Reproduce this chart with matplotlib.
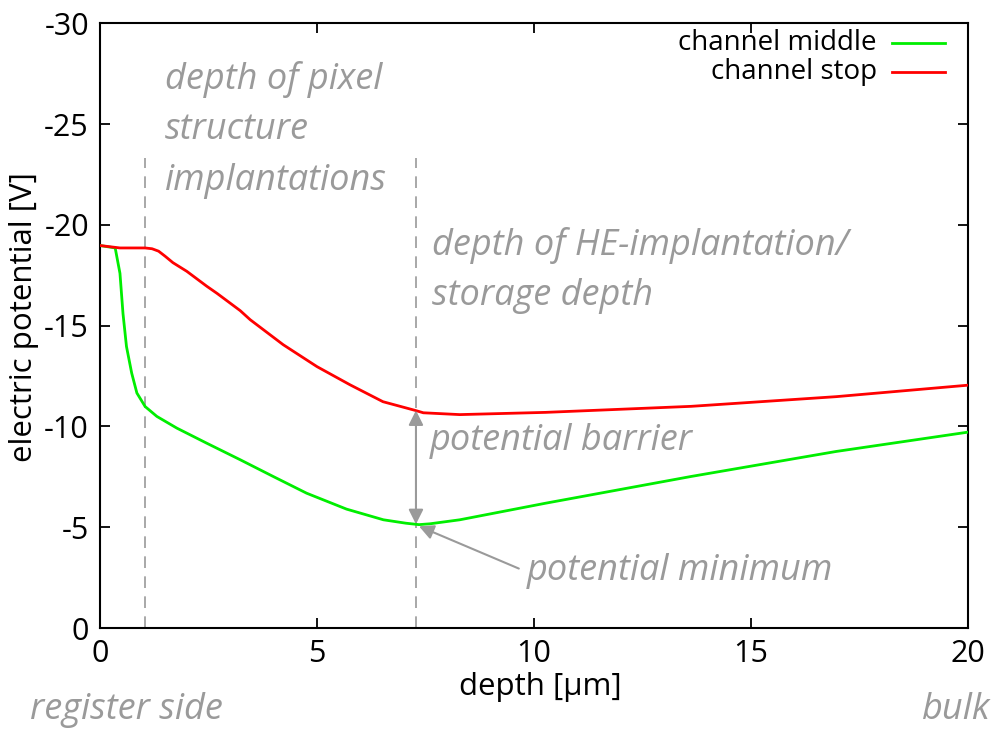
import matplotlib
matplotlib.use("Agg")
import matplotlib.pyplot as plt
from matplotlib.lines import Line2D

# potential profiles along the depth of the sensor
depth_middle = [0, 0.35, 0.46, 0.53, 0.61, 0.73, 0.85, 1.04, 1.31, 1.77, 2.46, 3.23,
                3.99, 4.76, 5.68, 6.53, 7.05, 7.35, 7.6, 8.29, 10.26, 13.62, 16.96, 20]
pot_middle = [-18.98, -18.86, -17.6, -15.6, -13.97, -12.65, -11.66, -10.99, -10.5, -9.92,
              -9.17, -8.35, -7.52, -6.69, -5.9, -5.37, -5.2, -5.13, -5.17, -5.37, -6.19,
              -7.52, -8.76, -9.72]

depth_stop = [0, 0.46, 1.04, 1.2, 1.35, 1.5, 1.68, 2.0, 2.46, 2.7, 3.23, 3.46, 4.22,
              5.0, 5.76, 6.52, 7.26, 7.45, 8.29, 10.26, 13.62, 16.96, 20]
pot_stop = [-18.98, -18.86, -18.86, -18.82, -18.7, -18.45, -18.13, -17.7, -16.96, -16.6,
            -15.75, -15.3, -14.06, -12.97, -12.07, -11.23, -10.8, -10.68, -10.59, -10.7,
            -11.0, -11.48, -12.05]

series_labels = ["channel middle", "channel stop"]
series_colors = ["#00ee00", "#ff0000"]

pixel_depth = 1.04      # depth of pixel structure implantations
storage_depth = 7.28    # depth of HE implantation / storage depth
barrier_top = -10.8
barrier_bottom = -5.15

x_ticks = [0, 5, 10, 15, 20]
y_ticks = [0, -5, -10, -15, -20, -25, -30]

plt.rcParams['font.family'] = ['Open Sans', 'DejaVu Sans']
gray = "#9a9a9a"

fig = plt.figure(figsize=(9.95, 7.31), dpi=100)
ax = fig.add_axes([0.1005, 0.1409, 0.8724, 0.827])

ax.plot(depth_middle, pot_middle, color=series_colors[0], lw=2.0, zorder=3)
ax.plot(depth_stop, pot_stop, color=series_colors[1], lw=2.0, zorder=3)

ax.set_xlim(0, 20)
ax.set_ylim(0, -30)
ax.set_xticks(x_ticks)
ax.set_yticks(y_ticks)
ax.set_xticklabels([str(v) for v in x_ticks])
ax.set_yticklabels([str(v) for v in y_ticks])
ax.tick_params(direction='in', length=7, width=1.3, labelsize=22, pad=8,
               top=True, right=True, colors='black')
for s in ax.spines.values():
    s.set_linewidth(1.5)

ax.set_xlabel("depth [µm]", fontsize=22.5, va='center')
ax.xaxis.set_label_coords(0.507, -0.098)
ax.set_ylabel("electric potential [V]", fontsize=22.5, va='center')
ax.yaxis.set_label_coords(-0.087, 0.515)

# vertical guides
for xv in (pixel_depth, storage_depth):
    ax.plot([xv, xv], [0, -23.3], color=gray, lw=1.2, ls=(0, (7, 5)), zorder=2)

# potential barrier arrow
ax.annotate("", xy=(storage_depth, barrier_top), xytext=(storage_depth, barrier_bottom),
            arrowprops=dict(arrowstyle='<|-|>', color=gray, lw=1.5,
                            mutation_scale=22, shrinkA=0, shrinkB=0), zorder=4)
# potential minimum arrow
ax.annotate("", xy=(7.35, -5.05), xytext=(9.65, -2.95),
            arrowprops=dict(arrowstyle='-|>', color=gray, lw=1.5,
                            mutation_scale=22, shrinkA=0, shrinkB=0), zorder=4)

tkw = dict(color=gray, style='italic', fontsize=26, ha='left', va='center')
ax.text(1.5, -27.2, "depth of pixel", **tkw)
ax.text(1.5, -24.7, "structure", **tkw)
ax.text(1.5, -22.2, "implantations", **tkw)
ax.text(7.65, -19.0, "depth of HE-implantation/", **tkw)
ax.text(7.65, -16.5, "storage depth", **tkw)
ax.text(7.6, -9.3, "potential barrier", **tkw)
ax.text(9.84, -2.85, "potential minimum", **tkw)

fig.text(30 / 995, 1 - 710 / 731, "register side", color=gray, style='italic',
         fontsize=26, ha='left', va='center')
fig.text(990 / 995, 1 - 710 / 731, "bulk", color=gray, style='italic',
         fontsize=26, ha='right', va='center')

# key in the upper right corner
for i, (lab, col) in enumerate(zip(series_labels, series_colors)):
    yk = 0.967 - i * 0.0465
    ax.text(0.895, yk, lab, transform=ax.transAxes, ha='right', va='center',
            fontsize=20, color='black')
    ax.add_line(Line2D([0.9124, 0.9735], [yk, yk], transform=ax.transAxes,
                       color=col, lw=2.0))

fig.savefig("out.png", dpi=100)
